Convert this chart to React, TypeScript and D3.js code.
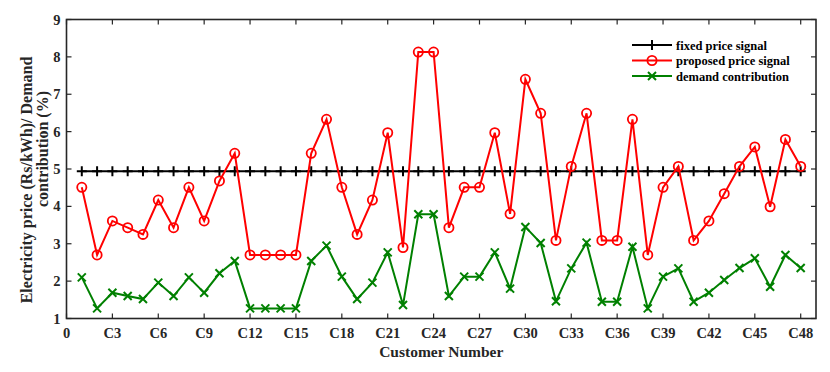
import React from "react";
import * as d3 from "d3";

const customers: number[] = d3.range(1, 49);
const fixedPrice: number[] = customers.map(() => 4.94);
const proposedPrice: number[] = [
  4.51, 2.7, 3.61, 3.43, 3.25, 4.17, 3.43, 4.51, 3.61, 4.68,
  5.42, 2.7, 2.7, 2.7, 2.7, 5.42, 6.33, 4.51, 3.25, 4.17,
  5.97, 2.9, 8.13, 8.13, 3.43, 4.51, 4.51, 5.97, 3.8, 7.4,
  6.49, 3.09, 5.07, 6.49, 3.09, 3.09, 6.33, 2.7, 4.51, 5.07,
  3.09, 3.61, 4.34, 5.07, 5.59, 3.99, 5.79, 5.07,
];
const demandContribution: number[] = [
  2.1, 1.27, 1.69, 1.6, 1.52, 1.96, 1.6, 2.1, 1.69, 2.21,
  2.54, 1.27, 1.27, 1.27, 1.27, 2.54, 2.95, 2.12, 1.52, 1.96,
  2.77, 1.36, 3.79, 3.79, 1.6, 2.12, 2.12, 2.77, 1.8, 3.45,
  3.02, 1.46, 2.34, 3.03, 1.45, 1.45, 2.92, 1.27, 2.12, 2.34,
  1.45, 1.69, 2.03, 2.35, 2.61, 1.85, 2.7, 2.35,
];
const xTicks: number[] = d3.range(0, 49, 3);
const xTickLabels: string[] = xTicks.map((t) => (t === 0 ? "0" : `C${t}`));
const yTicks: number[] = d3.range(1, 10);
const legendLabels: string[] = ["fixed price signal", "proposed price signal", "demand contribution"];
const seriesColors: string[] = ["#000000", "#ff0000", "#008000"];

const W = 830, H = 372;
const M = { left: 66.5, right: 816, top: 19.5, bottom: 318.5 };
const FONT = "'Liberation Serif', 'Times New Roman', serif";
const AX = "#262626";

export default function App() {
  const x = d3.scaleLinear().domain([0, 49]).range([M.left, M.right]);
  const y = d3.scaleLinear().domain([1, 9]).range([M.bottom, M.top]);
  const line = d3.line<number>().x((_, i) => x(customers[i])).y((d) => y(d));
  const series = [fixedPrice, proposedPrice, demandContribution];

  const marker = (k: number, cx: number, cy: number, key: string) => {
    const c = seriesColors[k];
    if (k === 0)
      return (
        <path key={key} d={`M${cx - 5},${cy}H${cx + 5}M${cx},${cy - 5}V${cy + 5}`} stroke={c} strokeWidth={2} />
      );
    if (k === 1)
      return <circle key={key} cx={cx} cy={cy} r={4.6} fill="none" stroke={c} strokeWidth={1.8} />;
    return (
      <path key={key} d={`M${cx - 4},${cy - 4}L${cx + 4},${cy + 4}M${cx - 4},${cy + 4}L${cx + 4},${cy - 4}`} stroke={c} strokeWidth={2} />
    );
  };

  const tl = 5;
  return (
    <svg width={W} height={H} style={{ position: "absolute", left: 0, top: 0, background: "#fff" }} fontFamily={FONT}>
      <rect width={W} height={H} fill="#fff" />
      {series.map((s, k) => (
        <g key={k}>
          <path d={line(s) || ""} fill="none" stroke={seriesColors[k]} strokeWidth={2} />
          {s.map((v, i) => marker(k, x(customers[i]), y(v), `${k}-${i}`))}
        </g>
      ))}
      {/* axes box */}
      <rect x={M.left} y={M.top} width={M.right - M.left} height={M.bottom - M.top} fill="none" stroke={AX} strokeWidth={1.6} />
      {xTicks.map((t, i) => (
        <g key={`xt${t}`}>
          <line x1={x(t)} x2={x(t)} y1={M.bottom} y2={M.bottom - tl} stroke={AX} strokeWidth={1.2} />
          <line x1={x(t)} x2={x(t)} y1={M.top} y2={M.top + tl} stroke={AX} strokeWidth={1.2} />
          <text x={x(t)} y={M.bottom + 19.5} textAnchor="middle" fontSize={14.5} fontWeight="bold" fill={AX}>
            {xTickLabels[i]}
          </text>
        </g>
      ))}
      {yTicks.map((t) => (
        <g key={`yt${t}`}>
          <line x1={M.left} x2={M.left + tl} y1={y(t)} y2={y(t)} stroke={AX} strokeWidth={1.2} />
          <line x1={M.right} x2={M.right - tl} y1={y(t)} y2={y(t)} stroke={AX} strokeWidth={1.2} />
          <text x={M.left - 6} y={y(t) + 5} textAnchor="end" fontSize={14.5} fontWeight="bold" fill={AX}>
            {t}
          </text>
        </g>
      ))}
      <text x={(M.left + M.right) / 2} y={357} textAnchor="middle" fontSize={15.5} fontWeight="bold" fill={AX}>
        Customer Number
      </text>
      <text transform={`translate(32,180) rotate(-90)`} textAnchor="middle" fontSize={16} fontWeight="bold" fill={AX}>
        Electricity price (Rs/kWh)/ Demand
      </text>
      <text transform={`translate(48,149) rotate(-90)`} textAnchor="middle" fontSize={16} fontWeight="bold" fill={AX}>
        contribution (%)
      </text>
      {legendLabels.map((lab, k) => {
        const ly = 45 + k * 15.5;
        return (
          <g key={lab}>
            <line x1={632} x2={672} y1={ly} y2={ly} stroke={seriesColors[k]} strokeWidth={2} />
            {marker(k, 652, ly, `lg${k}`)}
            <text x={676} y={ly + 4.5} fontSize={12.5} fontWeight="bold" fill="#000">
              {lab}
            </text>
          </g>
        );
      })}
    </svg>
  );
}
